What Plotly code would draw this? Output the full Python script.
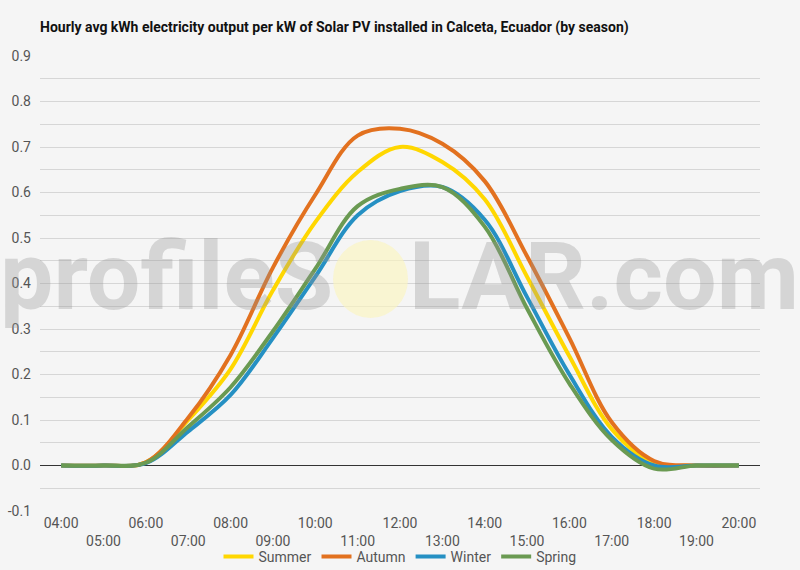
import plotly.graph_objects as go

hours = ["04:00", "05:00", "06:00", "07:00", "08:00", "09:00", "10:00", "11:00", "12:00",
         "13:00", "14:00", "15:00", "16:00", "17:00", "18:00", "19:00", "20:00"]

summer = [0.0, 0.0, 0.007, 0.1, 0.212, 0.385, 0.535, 0.645, 0.70, 0.667, 0.585, 0.415, 0.24, 0.08, 0.005, 0.0, 0.0]
autumn = [0.0, 0.0, 0.007, 0.105, 0.243, 0.435, 0.595, 0.725, 0.74, 0.707, 0.625, 0.46, 0.28, 0.095, 0.01, 0.0, 0.0]
winter = [0.0, 0.0, 0.005, 0.075, 0.155, 0.28, 0.415, 0.55, 0.603, 0.612, 0.54, 0.37, 0.20, 0.063, 0.0, 0.0, 0.0]
spring = [0.0, 0.0, 0.006, 0.085, 0.172, 0.295, 0.432, 0.57, 0.608, 0.612, 0.525, 0.345, 0.18, 0.056, -0.007, 0.0, 0.0]

y_ticks = [-0.1, 0.0, 0.1, 0.2, 0.3, 0.4, 0.5, 0.6, 0.7, 0.8, 0.9]
y_labels = ["-0.1", "0.0", "0.1", "0.2", "0.3", "0.4", "0.5", "0.6", "0.7", "0.8", "0.9"]

series = [("Summer", summer, "#FFD700"), ("Autumn", autumn, "#E2711F"),
          ("Winter", winter, "#2590C3"), ("Spring", spring, "#6A9A52")]

fig = go.Figure()
for name, vals, col in series:
    fig.add_trace(go.Scatter(x=hours, y=vals, name=name, mode="lines",
                             line=dict(color=col, width=4, shape="spline", smoothing=1)))
# empty helper trace so the second (staggered-label) axis exists
fig.add_trace(go.Scatter(x=hours, y=[None] * len(hours), xaxis="x2", showlegend=False,
                         hoverinfo="skip", mode="lines"))

bg = "#f5f5f5"
tick_font = dict(family="Roboto", size=14, color="#555555")
fig.update_layout(
    width=800, height=570,
    paper_bgcolor=bg, plot_bgcolor=bg,
    margin=dict(l=40, r=40, t=56, b=59),
    font=dict(family="Roboto", size=14, color="#555555"),
    title=dict(text="<b>Hourly avg kWh electricity output per kW of Solar PV installed in Calceta, Ecuador (by season)</b>",
               x=40 / 800, xref="container", xanchor="left", y=1 - 27 / 570, yref="container", yanchor="middle",
               pad=dict(l=0, r=0, t=0, b=0),
               font=dict(family="Roboto", size=14, color="#111111")),
    showlegend=True,
    legend=dict(orientation="h", x=0.5, xanchor="center", xref="container",
                y=13 / 570, yanchor="middle", yref="container",
                font=dict(size=14, color="#555555"), bgcolor="rgba(0,0,0,0)", itemwidth=30),
    xaxis=dict(type="category", categoryorder="array", categoryarray=hours,
               tickvals=hours[0::2], ticktext=hours[0::2], showgrid=False,
               zeroline=False, showline=False, ticks="", range=[-0.5, 16.5],
               ticklabelstandoff=2, automargin=False, tickfont=tick_font),
    xaxis2=dict(type="category", categoryorder="array", categoryarray=hours, overlaying="x",
                matches="x", anchor="y", side="bottom",
                tickvals=hours[1::2], ticktext=hours[1::2], showgrid=False,
                zeroline=False, showline=False, ticks="", range=[-0.5, 16.5],
                ticklabelstandoff=20, automargin=False, tickfont=tick_font),
    yaxis=dict(range=[-0.1, 0.9], tickvals=y_ticks, ticktext=y_labels, showgrid=True,
               gridcolor="#d6d6d6", gridwidth=1, zeroline=True, zerolinecolor="#333333",
               zerolinewidth=1, showline=False, ticks="", ticklabelstandoff=8,
               minor=dict(dtick=0.05, tick0=0, showgrid=True, gridcolor="#d6d6d6", gridwidth=1),
               automargin=False, tickfont=tick_font),
)

# watermark
wm_color = "rgba(150,150,150,0.33)"
fig.add_shape(type="circle", xref="paper", yref="paper",
              x0=(333 - 40) / 720, x1=(408 - 40) / 720,
              y0=(511 - 318) / 455, y1=(511 - 240) / 455,
              fillcolor="rgba(250,244,190,0.65)", line=dict(width=0), layer="above")
fig.add_annotation(text="<b>profileS</b>", xref="paper", yref="paper",
                   x=(335 - 40) / 720, xanchor="right", y=(511 - 276) / 455, yanchor="middle",
                   showarrow=False, font=dict(family="Roboto", size=95, color=wm_color))
fig.add_annotation(text="<b>LAR.com</b>", xref="paper", yref="paper",
                   x=(407 - 40) / 720, xanchor="left", y=(511 - 276) / 455, yanchor="middle",
                   showarrow=False, font=dict(family="Roboto", size=95, color=wm_color))

fig.write_html("out.html", config={"displayModeBar": False},
               post_script="document.body.style.margin='0';")
